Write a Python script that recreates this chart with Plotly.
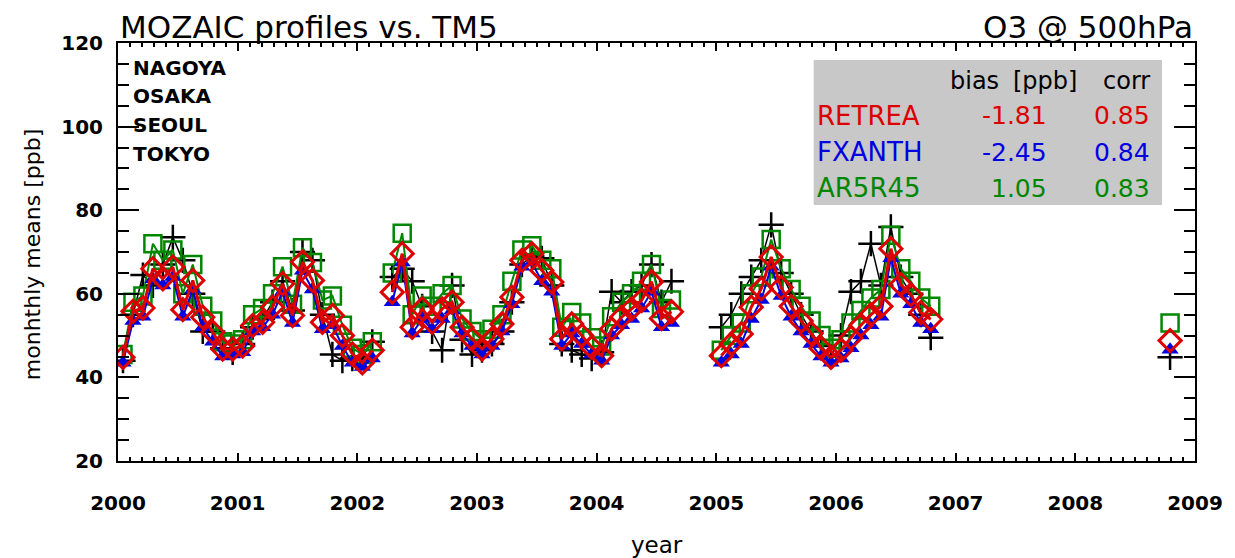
import plotly.graph_objects as go

# ---------------- data ----------------
SEG_STARTS = [(2000, 1), (2002, 4), (2005, 1), (2008, 10)]   # (year, month) of first month in each segment
SEG_LENGTHS = [26, 29, 22, 1]

OBS = [  # MOZAIC observations (black +)
    44.0, 55.0, 64.5, 62.0, 67.0, 73.5, 68.0, 60.0, 51.0, 51.0, 47.0, 46.0, 48.0, 52.0, 54.0, 58.0, 63.0, 56.0, 70.0, 68.0, 55.0, 45.5, 44.0, 44.5, 45.0, 48.5,
    64.0, 66.0, 63.0, 57.0, 51.0, 46.5, 62.0, 49.0, 45.5, 46.5, 48.0, 51.0, 58.0, 67.0, 69.0, 68.5, 62.0, 48.0, 46.5, 45.5, 44.5, 46.0, 60.5, 58.0, 60.5, 62.0, 67.0, 58.0, 63.0,
    52.0, 55.0, 60.0, 64.0, 68.0, 76.5, 65.0, 60.0, 55.0, 51.0, 47.5, 45.0, 50.0, 60.5, 63.0, 72.0, 62.0, 76.0, 64.0, 60.0, 55.0, 49.5,
    44.8,
]
RETREA = [
    44.8, 55.8, 56.6, 66.0, 63.6, 66.4, 56.2, 63.2, 54.4, 50.8, 46.8, 46.8, 47.5, 52.4, 53.2, 56.8, 62.4, 54.8, 67.6, 63.2, 53.2, 54.8, 50.0, 45.6, 43.5, 46.5,
    60.4, 69.6, 52.0, 56.4, 53.2, 56.4, 58.0, 52.0, 49.2, 46.8, 49.2, 52.8, 59.2, 68.0, 69.6, 65.6, 62.8, 49.2, 52.8, 50.0, 47.2, 45.2, 51.6, 54.4, 56.4, 58.4, 62.9, 54.1, 55.7,
    45.2, 48.0, 50.4, 56.8, 61.2, 68.8, 61.5, 57.0, 53.5, 50.5, 47.0, 44.8, 46.5, 49.5, 52.5, 55.0, 57.0, 70.8, 62.2, 59.8, 55.5, 53.9,
    48.8,
]
FXANTH = [
    43.5, 53.5, 54.5, 63.5, 62.0, 64.0, 54.5, 61.0, 52.0, 48.5, 45.0, 45.5, 46.0, 51.0, 52.0, 55.0, 60.5, 53.0, 65.5, 61.0, 51.5, 52.5, 47.5, 43.5, 42.5, 44.5,
    58.0, 67.5, 50.5, 54.0, 51.5, 54.0, 56.0, 50.5, 47.5, 45.5, 47.5, 51.0, 57.5, 66.5, 67.5, 63.0, 60.5, 47.5, 50.5, 48.0, 45.5, 44.0, 50.0, 52.5, 54.0, 56.5, 60.5, 52.0, 53.0,
    43.5, 45.5, 48.0, 54.0, 58.5, 66.5, 59.5, 54.5, 51.0, 48.0, 45.0, 43.5, 44.5, 47.0, 50.0, 52.5, 54.5, 68.5, 60.0, 57.5, 53.0, 51.5,
    46.6,
]
AR5R45 = [
    45.5, 58.0, 59.5, 72.0, 68.0, 70.5, 60.0, 67.0, 57.0, 53.5, 48.5, 48.0, 49.0, 55.0, 56.5, 60.0, 66.5, 57.5, 71.0, 67.5, 58.5, 59.5, 52.5, 47.0, 45.5, 48.5,
    65.0, 74.5, 55.0, 59.5, 57.0, 60.0, 62.0, 54.0, 51.0, 49.0, 51.5, 55.0, 63.0, 70.5, 71.5, 68.0, 66.0, 52.0, 55.5, 53.0, 49.5, 47.5, 54.5, 58.0, 60.0, 63.0, 67.0, 56.5, 58.5,
    46.5, 50.0, 53.0, 60.0, 64.0, 73.0, 66.0, 61.0, 57.0, 53.5, 50.0, 47.0, 49.0, 53.0, 56.0, 59.0, 61.0, 74.0, 66.0, 63.0, 59.0, 57.0,
    53.0,
]

STATIONS = ["NAGOYA", "OSAKA", "SEOUL", "TOKYO"]
MODELS = ["RETREA", "FXANTH", "AR5R45"]
BIAS = ["-1.81", "-2.45", "1.05"]
CORR = ["0.85", "0.84", "0.83"]
YEARS = list(range(2000, 2010))
Y_TICKS = [20, 40, 60, 80, 100, 120]

RED = "rgb(220,0,0)"
BLUE = "rgb(0,0,225)"
GREEN = "rgb(0,135,0)"
FONT = "DejaVu Sans"


# ---------------- build x with gaps ----------------
def with_gaps(values):
    xs, ys = [], []
    i = 0
    for (yr, mo), n in zip(SEG_STARTS, SEG_LENGTHS):
        for k in range(n):
            m = mo - 1 + k
            xs.append(yr + m // 12 + ((m % 12) + 0.5) / 12.0)
            ys.append(values[i])
            i += 1
        xs.append(None)
        ys.append(None)
    return xs, ys


fig = go.Figure()

x, y = with_gaps(OBS)
fig.add_trace(go.Scatter(x=x, y=y, mode="lines+markers", connectgaps=False,
                         line=dict(color="black", width=1.5),
                         marker=dict(symbol="cross-thin", size=18, line=dict(color="black", width=2.5))))
x, y = with_gaps(AR5R45)
fig.add_trace(go.Scatter(x=x, y=y, mode="lines+markers", connectgaps=False,
                         line=dict(color=GREEN, width=2),
                         marker=dict(symbol="square-open", size=17, color=GREEN, line=dict(color=GREEN, width=2.5))))
x, y = with_gaps(FXANTH)
fig.add_trace(go.Scatter(x=x, y=y, mode="lines+markers", connectgaps=False,
                         line=dict(color=BLUE, width=2),
                         marker=dict(symbol="triangle-up", size=15, color=BLUE, line=dict(width=0))))
x, y = with_gaps(RETREA)
fig.add_trace(go.Scatter(x=x, y=y, mode="lines+markers", connectgaps=False,
                         line=dict(color=RED, width=3),
                         marker=dict(symbol="diamond-open", size=17, color=RED, line=dict(color=RED, width=3))))

# ---------------- layout ----------------
L, R, T, B = 118, 38, 43, 97
W, H = 1235, 558
PW, PH = W - L - R, H - T - B


def px(xpix):
    return (xpix - L) / PW


def py(ypix):
    return (H - B - ypix) / PH


annotations = []
annotations.append(dict(text="MOZAIC profiles vs. TM5", x=0, y=1, xref="paper", yref="paper",
                        xanchor="left", yanchor="bottom", yshift=-4, showarrow=False,
                        font=dict(family=FONT, size=31, color="black")))
annotations.append(dict(text="O3 @ 500hPa", x=1, y=1, xref="paper", yref="paper",
                        xanchor="right", yanchor="bottom", yshift=-4, showarrow=False,
                        font=dict(family=FONT, size=31, color="black")))
annotations.append(dict(text="year", x=0.5, y=py(545), xref="paper", yref="paper",
                        xanchor="center", yanchor="middle", showarrow=False,
                        font=dict(family=FONT, size=23, color="black")))
annotations.append(dict(text="monhthly means [ppb]", x=px(32), y=py(255), xref="paper", yref="paper",
                        xanchor="center", yanchor="middle", textangle=-90, showarrow=False,
                        font=dict(family=FONT, size=22, color="black")))

for i, s in enumerate(STATIONS):
    annotations.append(dict(text=s, x=px(131), y=py(68 + 28.5 * i), xref="paper", yref="paper",
                            xanchor="left", yanchor="middle", showarrow=False,
                            font=dict(family=FONT, size=20, color="black", weight="bold")))

# legend table
annotations.append(dict(text="bias", x=px(1003), y=py(81), xref="paper", yref="paper",
                        xanchor="right", yanchor="middle", showarrow=False,
                        font=dict(family=FONT, size=24, color="black")))
annotations.append(dict(text="[ppb]", x=px(1081), y=py(81), xref="paper", yref="paper",
                        xanchor="right", yanchor="middle", showarrow=False,
                        font=dict(family=FONT, size=24, color="black")))
annotations.append(dict(text="corr", x=px(1154), y=py(81), xref="paper", yref="paper",
                        xanchor="right", yanchor="middle", showarrow=False,
                        font=dict(family=FONT, size=24, color="black")))
for i, (m, b, c, col) in enumerate(zip(MODELS, BIAS, CORR, [RED, BLUE, GREEN])):
    yy = py(116 + 36 * i)
    annotations.append(dict(text=m, x=px(816), y=yy, xref="paper", yref="paper",
                            xanchor="left", yanchor="middle", showarrow=False,
                            font=dict(family=FONT, size=26, color=col)))
    annotations.append(dict(text=b, x=px(1051), y=yy, xref="paper", yref="paper",
                            xanchor="right", yanchor="middle", showarrow=False,
                            font=dict(family=FONT, size=25, color=col)))
    annotations.append(dict(text=c, x=px(1154), y=yy, xref="paper", yref="paper",
                            xanchor="right", yanchor="middle", showarrow=False,
                            font=dict(family=FONT, size=25, color=col)))

shapes = [dict(type="rect", xref="paper", yref="paper", x0=px(815), x1=px(1164), y0=py(205), y1=py(60),
               fillcolor="rgb(200,200,200)", line=dict(width=0), layer="below")]

fig.update_layout(
    width=W, height=H,
    margin=dict(l=L, r=R, t=T, b=B, pad=0),
    paper_bgcolor="white", plot_bgcolor="white",
    showlegend=False,
    annotations=annotations,
    shapes=shapes,
    xaxis=dict(range=[2000, 2009], tickvals=YEARS, ticktext=[str(v) for v in YEARS],
               showgrid=False, zeroline=False, showline=True, linecolor="black", linewidth=2,
               mirror="ticks", ticks="inside", ticklen=8, tickwidth=2, tickcolor="black",
               minor=dict(ticks="inside", dtick=0.1, ticklen=4, tickwidth=1.5, tickcolor="black", showgrid=False),
               tickfont=dict(family=FONT, size=20, color="black", weight="bold"),
               ticklabelstandoff=23),
    yaxis=dict(range=[20, 120], tickvals=Y_TICKS,
               showgrid=False, zeroline=False, showline=True, linecolor="black", linewidth=2,
               mirror="ticks", ticks="inside", ticklen=21, tickwidth=2, tickcolor="black",
               minor=dict(ticks="inside", dtick=5, ticklen=11, tickwidth=2, tickcolor="black", showgrid=False),
               tickfont=dict(family=FONT, size=20, color="black", weight="bold"),
               ticklabelstandoff=9),
)

fig.write_html("out.html")
